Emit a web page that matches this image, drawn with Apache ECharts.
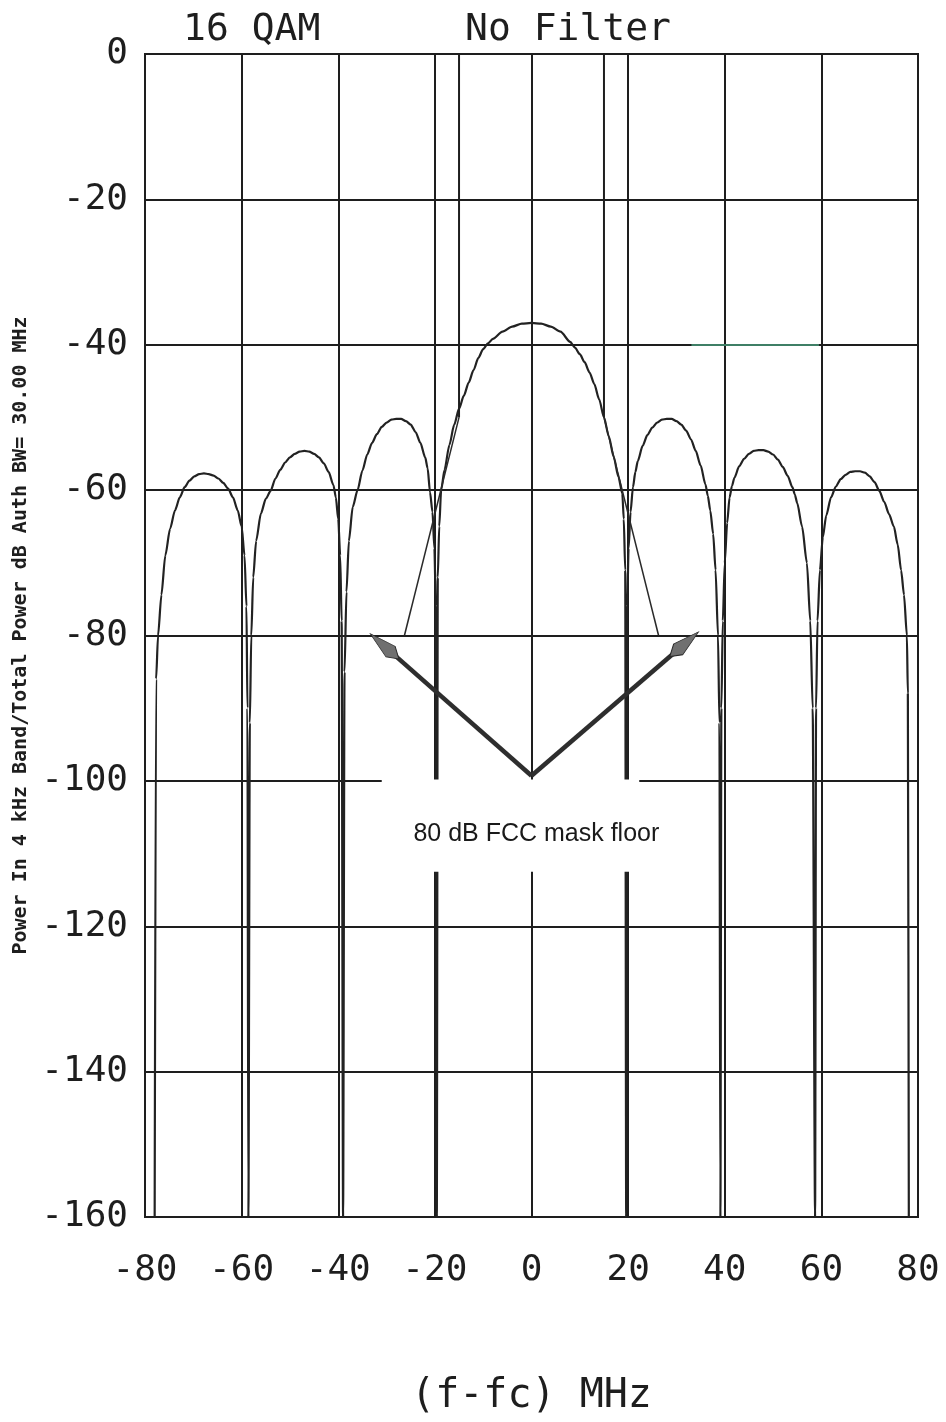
<!DOCTYPE html>
<html><head><meta charset="utf-8">
<script src="https://cdn.jsdelivr.net/npm/echarts@6/dist/echarts.min.js"></script>
<style>html,body{margin:0;padding:0;background:#fff}#c{width:946px;height:1422px}</style>
</head><body><div id="c"></div>
<script>
// ---- data ----
const xTickValues = [-80, -60, -40, -20, 0, 20, 40, 60, 80];
const yTickValues = [0, -20, -40, -60, -80, -100, -120, -140, -160];
const titleLeft = '16 QAM';
const titleRight = 'No Filter';
const xAxisName = '(f-fc) MHz';
const yAxisName = 'Power In 4 kHz Band/Total Power dB Auth BW= 30.00 MHz';
const annotationText = '80 dB FCC mask floor';

// spectrum samples (MHz, dB)
const freqMHz = [
  -78, -77.7, -77.3, -76.6, -75.8, -74.8, -73.8, -72.8, -71.8, -70.8, -69.8, -68.8, -67.8, -66.8, -65.8, -64.8, -63.8, -62.8, -61.8, -60.8, -60.0, -59.4, -59.0, -58.8, -58.6,
  -58.3, -58.0, -57.6, -57.0, -56.0, -55.0, -54.0, -53.0, -52.0, -51.0, -50.0, -49.0, -48.0, -47.0, -46.0, -45.0, -44.0, -43.0, -42.0, -41.0, -40.5, -40.0, -39.6, -39.3, -39.0,
  -38.7, -38.3, -37.8, -37.0, -36.0, -35.0, -34.0, -33.0, -32.0, -31.0, -30.0, -29.0, -28.0, -27.0, -26.0, -25.0, -24.0, -23.0, -22.0, -21.5, -21.0, -20.5, -20.1, -19.8, -19.6,
  -19.4, -19.1, -18.7, -18.0, -17.0, -16.0, -15.0, -14.0, -13.0, -12.0, -11.0, -10.0, -9.0, -8.0, -6.0, -4.0, -2.0, 0,
  2, 4, 6, 8, 9, 10, 11, 12, 13, 14, 15, 16, 17, 18, 18.8, 19.1, 19.4, 19.6,
  19.8, 20.1, 20.5, 21.0, 21.5, 22, 23, 24, 25, 26, 27, 28, 29, 30, 31, 32, 33, 34, 35, 36, 36.5, 37, 37.6, 38.1, 38.6, 38.9, 39.1,
  39.3, 39.6, 40.0, 40.5, 41.0, 41.5, 42, 43, 44, 45, 46, 47, 48, 49, 50, 51, 52, 53, 54, 54.5, 55, 56, 57, 57.7, 58.2, 58.7,
  58.9, 59.2, 59.7, 60.3, 61.0, 62.0, 63.0, 64.0, 65.0, 66.0, 67.0, 68.0, 69.0, 70.0, 71.0, 72.0, 73.0, 74.0, 75.0, 75.8, 76.5, 77.1, 77.7, 77.9, 78.1
];
const powerDb = [
  -160, -86, -80, -74.4, -69, -65.3, -62.8, -61.0, -59.6, -58.7, -58.1, -57.8, -57.7, -57.8, -58.0, -58.4, -59.0, -59.8, -61.0, -62.8, -65, -69, -76, -90, -160,
  -92, -80, -72, -67, -63.2, -61.2, -60.1, -58.4, -57.2, -56.2, -55.5, -55.0, -54.7, -54.6, -54.7, -55.0, -55.5, -56.3, -57.5, -59.3, -61, -64, -69, -78, -160,
  -85, -74, -67, -62.3, -60.0, -57.3, -55.1, -53.5, -52.3, -51.3, -50.7, -50.3, -50.2, -50.2, -50.5, -51.0, -52.0, -53.5, -55.5, -57, -60.3, -63, -68, -76, -160,
  -72, -65, -60, -57.2, -53.8, -51.0, -48.8, -47.0, -45.2, -43.5, -41.8, -40.6, -39.8, -39.2, -38.2, -37.5, -37.1, -37.0,
  -37.1, -37.5, -38.2, -39.6, -40.4, -41.3, -42.4, -43.8, -45.4, -47.5, -50.0, -52.6, -55.4, -58.2, -60.5, -64, -71, -160,
  -76, -68, -63, -59.6, -57.5, -56.0, -53.9, -52.4, -51.4, -50.7, -50.3, -50.2, -50.2, -50.5, -51.0, -51.8, -53.0, -54.6, -56.6, -59.2, -60.8, -62.8, -66, -71, -80, -92, -160,
  -90, -78, -70, -64.5, -61.0, -59.4, -58.3, -56.7, -55.7, -55.0, -54.6, -54.5, -54.5, -54.7, -55.1, -55.8, -56.8, -58.0, -59.6, -60.6, -61.8, -65, -70, -78, -90, -160,
  -90, -78, -71, -66.5, -63.5, -61.0, -59.5, -58.5, -57.9, -57.5, -57.4, -57.4, -57.6, -58.1, -58.9, -60.1, -61.6, -63.3, -65.0, -67.5, -71, -74.4, -80, -88, -160
];

// FCC emission mask (MHz, dB): vertical edge then slope down to the floor
const maskLeftFreq = [-15, -15, -26.3];
const maskLeftDb = [0, -50, -80];
const maskRightFreq = [15, 15, 26.3];
const maskRightDb = [0, -50, -80];

// annotation geometry (data coordinates)
const arrowVertex = [0, -99.3];
const arrowHeadLeft = [-30.4, -81.5];
const arrowHeadRight = [31.6, -81.2];
const labelPoint = [1.0, -107.3];
const blankBox = [[-31, -99.8], [22.3, -112.5]];
const greenSegment = [[33.1, -40], [59.5, -40]];

// ---- chart ----
const MONO = '"DejaVu Sans Mono", "Liberation Mono", monospace';
const INK = '#1e1e1e';
const curveData = freqMHz.map((f, i) => [f, powerDb[i]]);
const pts = (fs, ds) => fs.map((f, i) => [f, ds[i]]);
const maskLVert = pts(maskLeftFreq.slice(0, 2), maskLeftDb.slice(0, 2));
const maskLSlope = pts(maskLeftFreq.slice(1), maskLeftDb.slice(1));
const maskRVert = pts(maskRightFreq.slice(0, 2), maskRightDb.slice(0, 2));
const maskRSlope = pts(maskRightFreq.slice(1), maskRightDb.slice(1));
const headPath = 'path://M6 0 L12 24 L6 34 L0 24 Z';
const plainLine = (name, data, width, color) => ({
  name, type: 'line', data, showSymbol: false, symbol: 'none',
  lineStyle: {color, width}, z: 3, silent: true
});

const chart = echarts.init(document.getElementById('c'), null, {renderer: 'canvas'});
const option = {
  backgroundColor: '#ffffff',
  animation: false,
  title: [
    {text: titleLeft, left: 178, top: 6, textStyle: {fontFamily: MONO, fontSize: 38, fontWeight: 'normal', color: INK}},
    {text: titleRight, left: 460, top: 6, textStyle: {fontFamily: MONO, fontSize: 38, fontWeight: 'normal', color: INK}}
  ],
  grid: {left: 145, right: 28, top: 54, bottom: 193, show: true, borderColor: INK, borderWidth: 2, backgroundColor: 'transparent'},
  xAxis: {
    type: 'value', min: xTickValues[0], max: xTickValues[xTickValues.length - 1], interval: 20,
    name: xAxisName, nameLocation: 'middle', nameGap: 160,
    nameTextStyle: {fontFamily: MONO, fontSize: 40, color: INK},
    axisLine: {show: true, lineStyle: {color: INK, width: 2}},
    axisTick: {show: false},
    axisLabel: {margin: 36, fontFamily: MONO, fontSize: 36, color: INK, formatter: v => xTickValues.includes(v) ? String(v) : ''},
    splitLine: {show: true, lineStyle: {color: INK, width: 2}}
  },
  yAxis: {
    type: 'value', min: yTickValues[yTickValues.length - 1], max: yTickValues[0], interval: 20,
    name: yAxisName, nameLocation: 'middle', nameGap: 112, nameRotate: 90,
    nameTextStyle: {fontFamily: MONO, fontSize: 20, fontWeight: 'bold', color: INK},
    axisLine: {show: true, lineStyle: {color: INK, width: 2}},
    axisTick: {show: false},
    axisLabel: {margin: 17, fontFamily: MONO, fontSize: 36, color: INK, formatter: v => yTickValues.includes(v) ? String(v) : ''},
    splitLine: {show: true, lineStyle: {color: INK, width: 2}}
  },
  series: [
    {
      name: 'spectrum', type: 'line', data: curveData, showSymbol: false, symbol: 'none',
      smooth: 0.25, smoothMonotone: 'x',
      lineStyle: {color: '#222', width: 2.2}, z: 3, clip: true
    },
    plainLine('maskLVert', maskLVert, 2, INK),
    plainLine('maskLSlope', maskLSlope, 1.5, '#2a2a2a'),
    plainLine('maskRVert', maskRVert, 2, INK),
    Object.assign(plainLine('maskRSlope', maskRSlope, 1.5, '#2a2a2a'), {
      markLine: {
        silent: true, symbol: ['none', 'none'], z: 4, label: {show: false},
        lineStyle: {color: '#3f7f66', width: 2, type: 'solid'},
        data: [[{coord: greenSegment[0]}, {coord: greenSegment[1]}]]
      }
    }),
    {
      name: 'annot', type: 'scatter', data: [labelPoint], symbolSize: 1,
      itemStyle: {color: 'rgba(0,0,0,0)'}, z: 20, silent: true,
      label: {show: true, position: 'inside', formatter: annotationText,
        fontFamily: '"Liberation Sans", Arial, sans-serif', fontSize: 25, color: '#1a1a1a',
        textBorderWidth: 0, textBorderColor: 'transparent', opacity: 1},
      markArea: {
        silent: true, z: 10, itemStyle: {color: '#ffffff', borderWidth: 0},
        data: [[{coord: blankBox[0]}, {coord: blankBox[1]}]]
      },
      markLine: {
        silent: true, symbol: ['none', 'none'], z: 15, label: {show: false},
        lineStyle: {color: '#2e2e2e', width: 4.5, type: 'solid'},
        data: [
          [{coord: arrowVertex}, {coord: arrowHeadLeft}],
          [{coord: arrowVertex}, {coord: arrowHeadRight}]
        ]
      }
    },
    {
      name: 'heads', type: 'scatter', data: [], z: 21,
      markPoint: {
        silent: true, z: 16, symbol: headPath, symbolSize: [14, 38], label: {show: false},
        itemStyle: {color: '#707070', borderColor: '#2a2a2a', borderWidth: 1},
        data: [
          {coord: arrowHeadLeft, symbolRotate: 0},
          {coord: arrowHeadRight, symbolRotate: 0}
        ]
      }
    }
  ]
};
chart.setOption(option);

// orient the arrow heads along their shafts
function angleTo(from, to) {
  const a = chart.convertToPixel({gridIndex: 0}, from);
  const b = chart.convertToPixel({gridIndex: 0}, to);
  return Math.atan2(-(b[1] - a[1]), b[0] - a[0]) * 180 / Math.PI - 90;
}
chart.setOption({
  series: [{}, {}, {}, {}, {}, {}, {
    markPoint: {
      data: [
        {coord: arrowHeadLeft, symbolRotate: angleTo(arrowVertex, arrowHeadLeft)},
        {coord: arrowHeadRight, symbolRotate: angleTo(arrowVertex, arrowHeadRight)}
      ]
    }
  }]
});
</script>
</body></html>
